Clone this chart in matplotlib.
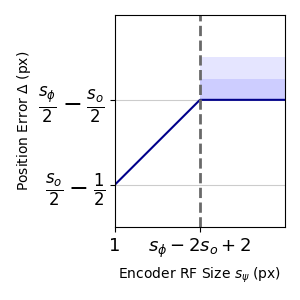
import matplotlib
matplotlib.use("Agg")
import matplotlib.pyplot as plt

# data (schematic units)
line_x = [1, 2, 3]
line_y = [0, 1, 1]
band_x = [2, 3]
band_lo = [1, 1]
band_inner = [1.25, 1.25]
band_outer = [1.5, 1.5]
xticks = [1, 2]
xtick_labels = ["1", r"$s_\phi - 2s_o + 2$"]
yticks = [0, 1]
ytick_labels = [r"$\frac{s_o}{2} - \frac{1}{2}$", r"$\frac{s_\phi}{2} - \frac{s_o}{2}$"]
split_x = 2

fig, ax = plt.subplots(figsize=(3, 3), dpi=100)
fig.subplots_adjust(left=0.383, right=0.95, top=0.95, bottom=0.243)

ax.fill_between(band_x, band_lo, band_outer, color="blue", alpha=0.1, lw=0)
ax.fill_between(band_x, band_lo, band_inner, color="blue", alpha=0.1, lw=0)
ax.plot(line_x, line_y, color="darkblue", lw=1.5)
ax.axvline(split_x, color="dimgray", ls="--", lw=2)

ax.set_xlim(1, 3)
ax.set_ylim(-0.5, 2)
ax.set_xticks(xticks)
ax.set_xticklabels(xtick_labels, fontsize=13)
ax.set_yticks(yticks)
ax.set_yticklabels(ytick_labels, fontsize=17)
ax.grid(axis="y", color="#cccccc", lw=0.8)
ax.set_axisbelow(True)

ax.set_xlabel(r"Encoder RF Size $s_\psi$ (px)", fontsize=10)
ax.set_ylabel(r"Position Error $\Delta$ (px)", fontsize=10)

fig.savefig("out.png")
